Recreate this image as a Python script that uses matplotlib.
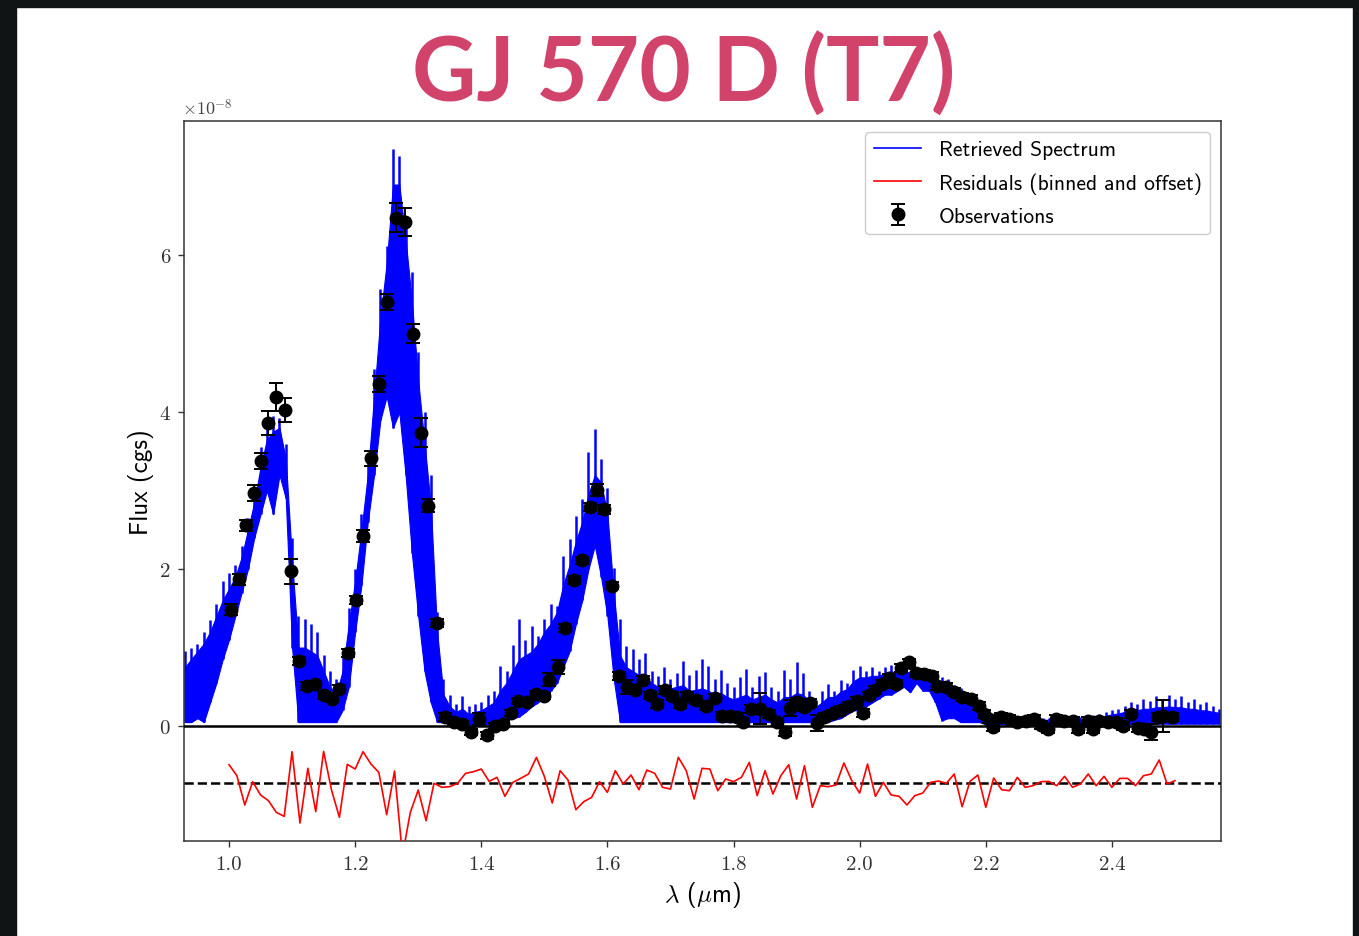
import matplotlib
matplotlib.use("Agg")
import matplotlib.pyplot as plt
from matplotlib.patches import Rectangle
from matplotlib.lines import Line2D

plt.rcParams['mathtext.fontset'] = 'cm'

# ---------------- data (flux in units of 1e-8 cgs) ----------------
spec_wave = [0.93, 0.94, 0.95, 0.96, 0.97, 0.98, 0.99, 1.00, 1.01, 1.02, 1.03, 1.04, 1.05, 1.06, 1.07, 1.08, 1.09,
             1.10, 1.11, 1.12, 1.13, 1.14, 1.15, 1.16, 1.17, 1.18, 1.19, 1.20, 1.21, 1.22, 1.23, 1.24, 1.25, 1.26,
             1.27, 1.28, 1.29, 1.30, 1.31, 1.32, 1.33, 1.34, 1.35, 1.36, 1.37, 1.38, 1.39, 1.40, 1.41, 1.42, 1.43,
             1.44, 1.45, 1.46, 1.47, 1.48, 1.49, 1.50, 1.51, 1.52, 1.53, 1.54, 1.55, 1.56, 1.57, 1.58, 1.59, 1.60,
             1.61, 1.62, 1.63, 1.64, 1.65, 1.66, 1.67, 1.68, 1.69, 1.70, 1.71, 1.72, 1.73, 1.74, 1.75, 1.76, 1.77,
             1.78, 1.79, 1.80, 1.81, 1.82, 1.83, 1.84, 1.85, 1.86, 1.87, 1.88, 1.89, 1.90, 1.91, 1.92, 1.93, 1.94,
             1.95, 1.96, 1.97, 1.98, 1.99, 2.00, 2.01, 2.02, 2.03, 2.04, 2.05, 2.06, 2.07, 2.08, 2.09, 2.10, 2.11,
             2.12, 2.13, 2.14, 2.15, 2.16, 2.17, 2.18, 2.19, 2.20, 2.21, 2.22, 2.23, 2.24, 2.25, 2.26, 2.27, 2.28,
             2.29, 2.30, 2.31, 2.32, 2.33, 2.34, 2.35, 2.36, 2.37, 2.38, 2.39, 2.40, 2.41, 2.42, 2.43, 2.44, 2.45,
             2.46, 2.47, 2.48, 2.49, 2.50, 2.51, 2.52, 2.53, 2.54, 2.55, 2.56, 2.57]
# spike tips of the retrieved spectrum
spec_upper = [0.95, 1.00, 1.05, 1.20, 1.35, 1.55, 1.85, 1.95, 2.05, 2.30, 2.65, 3.00, 3.55, 3.85, 3.95, 3.92, 3.60,
              2.40, 1.40, 1.36, 1.30, 1.20, 0.90, 0.70, 0.60, 0.90, 1.50, 2.00, 2.70, 3.40, 4.55, 5.57, 6.12, 7.35,
              7.27, 6.50, 5.78, 4.76, 4.00, 3.20, 1.45, 0.60, 0.40, 0.28, 0.38, 0.25, 0.28, 0.30, 0.40, 0.45, 0.77,
              0.70, 1.03, 1.36, 1.10, 1.28, 1.15, 1.36, 1.55, 1.53, 2.17, 2.38, 2.68, 2.89, 3.49, 3.78, 3.40, 3.03,
              2.01, 1.36, 1.02, 0.98, 0.85, 0.93, 0.70, 0.64, 0.75, 0.60, 0.68, 0.83, 0.65, 0.72, 0.85, 0.77, 0.60,
              0.71, 0.55, 0.50, 0.62, 0.73, 0.50, 0.64, 0.69, 0.50, 0.45, 0.71, 0.60, 0.81, 0.67, 0.45, 0.33, 0.45,
              0.53, 0.45, 0.59, 0.55, 0.71, 0.77, 0.70, 0.75, 0.70, 0.75, 0.78, 0.72, 0.80, 0.70, 0.72, 0.70, 0.68,
              0.68, 0.62, 0.60, 0.52, 0.48, 0.40, 0.35, 0.25, 0.15, 0.12, 0.10, 0.12, 0.12, 0.10, 0.10, 0.10, 0.12,
              0.10, 0.10, 0.12, 0.10, 0.12, 0.14, 0.12, 0.12, 0.14, 0.15, 0.18, 0.20, 0.22, 0.25, 0.30, 0.28, 0.35,
              0.32, 0.38, 0.35, 0.40, 0.35, 0.38, 0.30, 0.35, 0.28, 0.30, 0.25, 0.22]
# top of the densely filled part of the spectrum
spec_core = [0.75, 0.85, 0.95, 1.05, 1.20, 1.40, 1.60, 1.75, 1.90, 2.15, 2.50, 2.85, 3.30, 3.65, 3.75, 3.80, 3.40,
             2.10, 1.00, 1.00, 0.95, 0.90, 0.70, 0.50, 0.40, 0.70, 1.30, 1.85, 2.50, 3.20, 4.20, 5.20, 5.90, 6.90,
             6.90, 6.20, 5.40, 4.40, 3.60, 2.80, 1.20, 0.40, 0.25, 0.18, 0.22, 0.15, 0.18, 0.20, 0.25, 0.30, 0.45,
             0.55, 0.70, 0.85, 0.90, 0.95, 1.05, 1.20, 1.30, 1.45, 1.80, 2.05, 2.35, 2.60, 2.95, 3.20, 3.10, 2.70,
             1.70, 0.90, 0.75, 0.70, 0.65, 0.62, 0.55, 0.50, 0.52, 0.48, 0.50, 0.52, 0.45, 0.46, 0.48, 0.45, 0.40,
             0.42, 0.37, 0.34, 0.37, 0.40, 0.34, 0.37, 0.40, 0.34, 0.30, 0.37, 0.37, 0.42, 0.40, 0.32, 0.24, 0.30,
             0.37, 0.37, 0.44, 0.47, 0.57, 0.62, 0.62, 0.64, 0.64, 0.67, 0.70, 0.67, 0.72, 0.67, 0.68, 0.66, 0.63,
             0.62, 0.56, 0.52, 0.46, 0.42, 0.35, 0.28, 0.18, 0.11, 0.09, 0.08, 0.09, 0.09, 0.08, 0.08, 0.08, 0.09,
             0.08, 0.08, 0.09, 0.08, 0.09, 0.10, 0.09, 0.09, 0.10, 0.11, 0.13, 0.15, 0.16, 0.18, 0.20, 0.20, 0.22,
             0.22, 0.24, 0.24, 0.25, 0.24, 0.24, 0.22, 0.22, 0.20, 0.20, 0.18, 0.17]
# deepest dips of the spectrum
spec_lower = [0.05, 0.05, 0.10, 0.05, 0.30, 0.55, 0.85, 1.10, 1.40, 1.70, 2.00, 2.40, 2.70, 3.00, 2.70, 3.20, 2.90,
              1.00, 0.05, 0.05, 0.05, 0.05, 0.05, 0.05, 0.05, 0.20, 0.50, 1.20, 1.80, 2.60, 3.20, 3.90, 4.20, 3.80,
              4.00, 3.20, 2.20, 1.40, 0.70, 0.30, 0.05, 0.05, 0.02, 0.02, 0.02, 0.02, 0.02, 0.02, 0.02, 0.02, 0.05,
              0.08, 0.10, 0.12, 0.18, 0.25, 0.30, 0.40, 0.45, 0.55, 0.75, 0.95, 1.30, 1.60, 2.00, 2.30, 1.90, 1.40,
              0.60, 0.05, 0.05, 0.05, 0.05, 0.05, 0.05, 0.05, 0.05, 0.05, 0.05, 0.05, 0.05, 0.05, 0.05, 0.05, 0.05,
              0.05, 0.05, 0.05, 0.05, 0.05, 0.05, 0.05, 0.05, 0.05, 0.05, 0.05, 0.05, 0.05, 0.05, 0.05, 0.05, 0.05,
              0.05, 0.08, 0.10, 0.15, 0.20, 0.20, 0.25, 0.30, 0.35, 0.40, 0.40, 0.45, 0.50, 0.43, 0.55, 0.45, 0.45,
              0.30, 0.07, 0.10, 0.10, 0.05, 0.05, 0.05, 0.05, 0.02, 0.02, 0.02, 0.02, 0.02, 0.02, 0.02, 0.02, 0.02,
              0.02, 0.02, 0.02, 0.02, 0.02, 0.02, 0.02, 0.02, 0.02, 0.02, 0.02, 0.03, 0.03, 0.03, 0.03, 0.03, 0.03,
              0.03, 0.03, 0.03, 0.03, 0.03, 0.03, 0.03, 0.03, 0.03, 0.03, 0.03, 0.03]

obs_wave = [1.003, 1.016, 1.027, 1.040, 1.050, 1.062, 1.075, 1.088, 1.099, 1.111, 1.123, 1.137, 1.150, 1.163,
            1.175, 1.188, 1.201, 1.213, 1.225, 1.238, 1.251, 1.265, 1.279, 1.292, 1.304, 1.316, 1.330, 1.343,
            1.356, 1.369, 1.383, 1.396, 1.409, 1.422, 1.434, 1.447, 1.459, 1.473, 1.486, 1.499, 1.508, 1.521,
            1.533, 1.547, 1.560, 1.572, 1.584, 1.595, 1.608, 1.619, 1.631, 1.644, 1.656, 1.667, 1.679, 1.692,
            1.703, 1.715, 1.727, 1.740, 1.756, 1.771, 1.782, 1.795, 1.806, 1.815, 1.827, 1.842, 1.856, 1.869,
            1.881, 1.890, 1.901, 1.911, 1.922, 1.933, 1.943, 1.957, 1.970, 1.983, 1.996, 2.006, 2.015, 2.025,
            2.036, 2.047, 2.057, 2.066, 2.078, 2.089, 2.102, 2.114, 2.123, 2.137, 2.150, 2.163, 2.176, 2.189,
            2.197, 2.205, 2.212, 2.224, 2.237, 2.250, 2.263, 2.277, 2.287, 2.298, 2.311, 2.324, 2.338, 2.346,
            2.362, 2.370, 2.380, 2.394, 2.407, 2.417, 2.430, 2.441, 2.451, 2.462, 2.473, 2.481, 2.496]
obs_flux = [1.48, 1.87, 2.56, 2.97, 3.38, 3.86, 4.19, 4.03, 1.97, 0.83, 0.51, 0.53, 0.39, 0.35,
            0.47, 0.93, 1.61, 2.42, 3.41, 4.36, 5.40, 6.48, 6.42, 5.00, 3.74, 2.81, 1.31, 0.11,
            0.05, 0.03, -0.08, 0.09, -0.12, 0.00, 0.03, 0.17, 0.32, 0.30, 0.41, 0.38, 0.59, 0.75,
            1.25, 1.86, 2.11, 2.79, 3.01, 2.76, 1.79, 0.64, 0.50, 0.46, 0.59, 0.39, 0.28, 0.46,
            0.38, 0.28, 0.38, 0.33, 0.25, 0.36, 0.13, 0.13, 0.11, 0.05, 0.22, 0.22, 0.15, 0.05,
            -0.08, 0.23, 0.31, 0.24, 0.29, 0.04, 0.11, 0.16, 0.21, 0.25, 0.32, 0.17, 0.39, 0.46,
            0.54, 0.61, 0.54, 0.74, 0.81, 0.68, 0.66, 0.64, 0.51, 0.50, 0.43, 0.37, 0.34, 0.26,
            0.15, 0.09, -0.01, 0.11, 0.09, 0.05, 0.07, 0.09, 0.01, -0.04, 0.09, 0.07, 0.07, -0.04,
            0.07, -0.04, 0.07, 0.05, 0.05, 0.00, 0.15, -0.02, -0.04, -0.08, 0.11, 0.13, 0.12]
obs_err = [0.07, 0.07, 0.07, 0.10, 0.10, 0.15, 0.18, 0.15, 0.16, 0.05, 0.05, 0.05, 0.05, 0.05,
           0.05, 0.05, 0.05, 0.08, 0.10, 0.10, 0.10, 0.18, 0.18, 0.12, 0.18, 0.08, 0.05, 0.05,
           0.04, 0.04, 0.04, 0.08, 0.04, 0.04, 0.04, 0.04, 0.04, 0.04, 0.04, 0.04, 0.08, 0.09,
           0.05, 0.05, 0.05, 0.05, 0.08, 0.06, 0.05, 0.05, 0.09, 0.05, 0.05, 0.05, 0.05, 0.05,
           0.05, 0.05, 0.05, 0.05, 0.05, 0.05, 0.05, 0.05, 0.05, 0.05, 0.05, 0.20, 0.05, 0.05,
           0.05, 0.10, 0.05, 0.05, 0.05, 0.10, 0.05, 0.05, 0.05, 0.05, 0.05, 0.05, 0.05, 0.05,
           0.05, 0.05, 0.05, 0.05, 0.05, 0.05, 0.05, 0.05, 0.05, 0.05, 0.05, 0.05, 0.05, 0.05,
           0.05, 0.05, 0.05, 0.05, 0.05, 0.05, 0.05, 0.05, 0.05, 0.05, 0.05, 0.05, 0.05, 0.05,
           0.05, 0.05, 0.05, 0.05, 0.05, 0.05, 0.05, 0.05, 0.05, 0.10, 0.05, 0.20, 0.05]

resid_wave = [1.0, 1.0125, 1.025, 1.0375, 1.05, 1.0625, 1.075, 1.0875, 1.1, 1.1125, 1.125, 1.1375, 1.15, 1.1625,
              1.175, 1.1875, 1.2, 1.2125, 1.225, 1.2375, 1.25, 1.2625, 1.275, 1.2875, 1.3, 1.3125, 1.325, 1.3375,
              1.35, 1.3625, 1.375, 1.3875, 1.4, 1.4125, 1.425, 1.4375, 1.45, 1.4625, 1.475, 1.4875, 1.5, 1.5125,
              1.525, 1.5375, 1.55, 1.5625, 1.575, 1.5875, 1.6, 1.6125, 1.625, 1.6375, 1.65, 1.6625, 1.675, 1.6875,
              1.7, 1.7125, 1.725, 1.7375, 1.75, 1.7625, 1.775, 1.7875, 1.8, 1.8125, 1.825, 1.8375, 1.85, 1.8625,
              1.875, 1.8875, 1.9, 1.9125, 1.925, 1.9375, 1.95, 1.9625, 1.975, 1.9875, 2.0, 2.0125, 2.025, 2.0375,
              2.05, 2.0625, 2.075, 2.0875, 2.1, 2.1125, 2.125, 2.1375, 2.15, 2.1625, 2.175, 2.1875, 2.2, 2.2125,
              2.225, 2.2375, 2.25, 2.2625, 2.275, 2.2875, 2.3, 2.3125, 2.325, 2.3375, 2.35, 2.3625, 2.375, 2.3875,
              2.4, 2.4125, 2.425, 2.4375, 2.45, 2.4625, 2.475, 2.4875, 2.5]
resid_vals = [-0.493, -0.633, -1.006, -0.709, -0.879, -0.951, -1.100, -1.151, -0.327, -1.236,
              -0.539, -1.091, -0.323, -0.815, -1.163, -0.488, -0.548, -0.327, -0.484, -0.590,
              -1.130, -0.573, -1.650, -1.100, -0.815, -1.206, -0.730, -0.781, -0.773, -0.730,
              -0.603, -0.582, -0.548, -0.705, -0.654, -0.896, -0.718, -0.667, -0.611, -0.399,
              -0.641, -0.981, -0.569, -0.688, -1.066, -0.964, -0.909, -0.709, -0.845, -0.569,
              -0.739, -0.624, -0.811, -0.561, -0.603, -0.781, -0.803, -0.399,
              -0.569, -0.930, -0.539, -0.548, -0.824, -0.675, -0.709, -0.654, -0.463, -0.887,
              -0.569, -0.866, -0.633, -0.493, -0.930, -0.505, -1.036, -0.760, -0.773, -0.752,
              -0.471, -0.696, -0.854, -0.484, -0.896, -0.718, -0.879, -0.896, -1.006, -0.887,
              -0.854, -0.718, -0.701, -0.730, -0.611, -1.028, -0.705, -0.624, -1.036, -0.662,
              -0.811, -0.824, -0.654, -0.781, -0.760, -0.709, -0.705, -0.760, -0.641, -0.781,
              -0.739, -0.611, -0.760, -0.641, -0.781, -0.667, -0.667, -0.760, -0.633, -0.611,
              -0.433, -0.739, -0.696]
resid_offset = -0.73

xtick_vals = [1.0, 1.2, 1.4, 1.6, 1.8, 2.0, 2.2, 2.4]
xtick_labels = ['1.0', '1.2', '1.4', '1.6', '1.8', '2.0', '2.2', '2.4']
ytick_vals = [0, 2, 4, 6]
ytick_labels = ['0', '2', '4', '6']

title_text = 'GJ 570 D (T7)'
legend_labels = ['Retrieved Spectrum', 'Residuals (binned and offset)', 'Observations']

# ---------------- figure ----------------
W, H = 1359, 937
fig = plt.figure(figsize=(W / 100, H / 100), dpi=100)
fig.patch.set_facecolor('white')
dark = '#101414'
fig.patches.append(Rectangle((0, 1 - 8 / H), 1, 8 / H, transform=fig.transFigure, color=dark, zorder=-10))
fig.patches.append(Rectangle((0, 0), 16 / W, 1, transform=fig.transFigure, color=dark, zorder=-10))
fig.patches.append(Rectangle((1353 / W, 0), 6 / W, 1, transform=fig.transFigure, color=dark, zorder=-10))

fig.text(684 / W, 1 - 74 / H, title_text, ha='center', va='center', fontsize=64,
         fontweight='bold', family='Lato', color='#d2436b')

ax = fig.add_axes([184 / W, 1 - 842 / H, (1221 - 184) / W, (842 - 122) / H])

ax.fill_between(spec_wave, spec_lower, spec_core, color='blue', lw=0.8, edgecolor='blue', zorder=2)
ax.vlines(spec_wave, spec_lower, spec_upper, color='blue', lw=1.8, zorder=2)
ax.axhline(0, color='black', lw=1.8, zorder=3)
ax.axhline(resid_offset, color='black', lw=1.8, ls='--', zorder=3)
ax.plot(resid_wave, resid_vals, color='red', lw=1.2, zorder=4)
eb = ax.errorbar(obs_wave, obs_flux, yerr=obs_err, fmt='o', color='black', ms=9,
                 capsize=5, elinewidth=1.4, capthick=1.4, zorder=5)

ax.set_xlim(0.9286, 2.573)
ax.set_ylim(-1.465, 7.71)

ax.set_xticks(xtick_vals)
ax.set_xticklabels(xtick_labels, fontfamily='cmr10', fontsize=15, color='#333333')
ax.set_yticks(ytick_vals)
ax.set_yticklabels(ytick_labels, fontfamily='cmr10', fontsize=15, color='#333333')
ax.tick_params(direction='out', length=4, width=1, color='#333333', pad=6)
for s in ax.spines.values():
    s.set_color('#333333')
    s.set_linewidth(1.1)

ax.text(-0.002, 1.004, r'$\times10^{-8}$', transform=ax.transAxes, fontsize=13,
        ha='left', va='bottom', color='#444444')

ax.set_ylabel('Flux (cgs)', fontfamily='cmss10', fontsize=18)
ax.yaxis.set_label_coords(-0.029, 0.5)
ax.set_xlabel(r'$\lambda$ ($\mu$m)', fontfamily='cmss10', fontsize=18)
ax.xaxis.set_label_coords(0.5, -0.053)

h_spec = Line2D([], [], color='blue', lw=1.2)
h_res = Line2D([], [], color='red', lw=1.2)
ax.legend([h_spec, h_res, eb], legend_labels, loc='upper right',
          prop={'family': 'cmss10', 'size': 15.5}, handlelength=2.2, labelspacing=0.6,
          edgecolor='#cccccc', framealpha=1.0)

fig.savefig('out.png', dpi=100, facecolor=fig.get_facecolor())
